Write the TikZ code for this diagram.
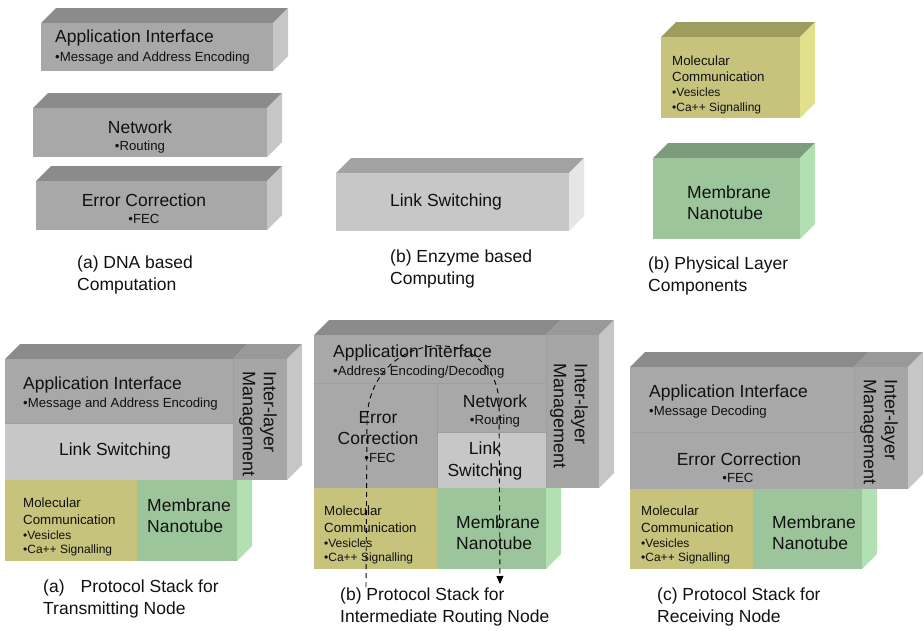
\documentclass[tikz,border=0pt]{standalone}
\usepackage{fontspec}
\setmainfont{Liberation Sans}
\usetikzlibrary{arrows.meta}
\definecolor{gfront}{HTML}{A8A8A8}
\definecolor{gtop}{HTML}{8B8B8B}
\definecolor{gside}{HTML}{C6C6C6}
\definecolor{ctop}{HTML}{999999}
\definecolor{cfront}{HTML}{A6A6A6}
\definecolor{lfront}{HTML}{C7C7C7}
\definecolor{ltop}{HTML}{A2A2A2}
\definecolor{lside}{HTML}{E6E6E6}
\definecolor{yfront}{HTML}{C6C47C}
\definecolor{ytop}{HTML}{9E9C5E}
\definecolor{yside}{HTML}{E1E08B}
\definecolor{nfront}{HTML}{9CC59C}
\definecolor{ntop}{HTML}{7C9C7C}
\definecolor{nside}{HTML}{B2E0B2}
\definecolor{txt}{HTML}{111111}
\newcommand\blockbox[7]{%
  \fill[#6] (#1,#2) -- (#1+15,#2-15) -- (#3+15,#2-15) -- (#3,#2) -- cycle;
  \fill[#7] (#3,#2) -- (#3+15,#2-15) -- (#3+15,#4-15) -- (#3,#4) -- cycle;
  \fill[#5] (#1,#2) rectangle (#3,#4);}
\tikzset{
  big/.style={font=\fontsize{17.5}{21.5}\selectfont, inner sep=0pt, text=txt},
  bul/.style={font=\fontsize{13.2}{16}\selectfont, inner sep=0pt, text=txt},
  mol/.style={font=\fontsize{13.3}{16}\selectfont, inner sep=0pt, text=txt, anchor=west},
  molb/.style={font=\fontsize{12}{15}\selectfont, inner sep=0pt, text=txt, anchor=west},
  capt/.style={font=\fontsize{17.5}{22}\selectfont, inner sep=0pt, text=txt, align=left, anchor=west},
  ilm/.style={font=\fontsize{18}{21}\selectfont, inner sep=0pt, text=txt, align=left, rotate=-90},
  sep/.style={draw=black!38, line width=0.6pt},
  route/.style={dashed, dash pattern=on 5pt off 4pt, line width=0.9pt, -{Triangle[length=8pt,width=7pt]}}
}
\newcommand\molec[3]{%
  \node[mol] (#3a) at (#1,#2) {Molecular};
  \node[mol] (#3b) at (#1,#2+16.5) {Communication};
  \node[molb] (#3c) at (#1,#2+32) {•Vesicles};
  \node[molb] (#3d) at (#1,#2+47.5) {•Ca++ Signalling};}
\begin{document}
\begin{tikzpicture}[x=1pt,y=-1pt]
\useasboundingbox (0,0) rectangle (924,630);
% ---------------- top row ----------------
\blockbox{41}{23}{273}{71}{gfront}{gtop}{gside}
\blockbox{33}{108}{267}{157}{gfront}{gtop}{gside}
\blockbox{36}{181}{267}{230}{gfront}{gtop}{gside}
\node[big, anchor=west] (t1) at (55,38) {Application Interface};
\node[bul, anchor=west] (t1b) at (55,58.5) {•Message and Address Encoding};
\node[big] (t2) at (140,127) {Network};
\node[bul] (t2b) at (140,147) {•Routing};
\node[big] (t3) at (144,200) {Error Correction};
\node[bul] (t3b) at (144,219) {•FEC};
\node[capt] (c1) at (77,275) {(a) DNA based\\Computation};

\blockbox{336}{173}{569}{231}{lfront}{ltop}{lside}
\node[big] (t4) at (446,202) {Link Switching};
\node[capt] (c2) at (390,269) {(b) Enzyme based\\Computing};

\blockbox{661}{37}{800}{118}{yfront}{ytop}{yside}
\molec{672}{60.5}{tm}
\blockbox{653}{158}{800}{239}{nfront}{ntop}{nside}
\node[big, align=left, anchor=west] (t6) at (687,202.5) {Membrane\\Nanotube};
\node[capt] (c3) at (648,275.5) {(b) Physical Layer\\Components};

% ---------------- stack A ----------------
\fill[nside] (237,465) -- (252,465) -- (252,546) -- (237,561) -- cycle;
\fill[yfront] (5,480) rectangle (137,561);
\fill[nfront] (137,480) rectangle (237,561);
\fill[gtop] (5,359) -- (20,344) -- (248,344) -- (233,359) -- cycle;
\fill[ctop] (233,359) -- (248,344) -- (302,344) -- (287,359) -- cycle;
\fill[gside] (287,359) -- (302,344) -- (302,465) -- (287,480) -- cycle;
\fill[gfront] (5,359) rectangle (233,423);
\fill[lfront] (5,423) rectangle (233,480);
\fill[cfront] (233,359) rectangle (287,480);
\draw[sep] (5,423) -- (233,423);
\draw[sep] (233,359) -- (233,480);
\node[big, anchor=west] (a1) at (23,385) {Application Interface};
\node[bul, anchor=west] (a1b) at (23,404.5) {•Message and Address Encoding};
\node[big] (a2) at (115,451) {Link Switching};
\node[ilm] (a3) at (258,424) {Inter-layer\\Management};
\molec{23}{503}{am}
\node[big, align=left, anchor=west] (a5) at (147,515.5) {Membrane\\Nanotube};
\node[capt] (c4) at (43,599) {(a)\hspace{16pt}Protocol Stack for\\Transmitting Node};

% ---------------- stack B ----------------
\fill[nside] (546,473) -- (561,473) -- (561,554) -- (546,569) -- cycle;
\fill[yfront] (314,488) rectangle (437,569);
\fill[nfront] (437,488) rectangle (546,569);
\fill[gtop] (314,335) -- (329,320) -- (561,320) -- (546,335) -- cycle;
\fill[ctop] (546,335) -- (561,320) -- (614,320) -- (599,335) -- cycle;
\fill[gside] (599,335) -- (614,320) -- (614,473) -- (599,488) -- cycle;
\fill[gfront] (314,335) rectangle (546,383);
\fill[gfront] (314,383) rectangle (437,488);
\fill[gfront] (437,383) rectangle (546,432);
\fill[lfront] (437,432) rectangle (546,488);
\fill[cfront] (546,335) rectangle (599,488);
\draw[sep] (314,383) -- (546,383);
\draw[sep] (437,383) -- (437,488);
\draw[sep] (437,432) -- (546,432);
\draw[sep] (546,335) -- (546,488);
\node[big, anchor=west] (b1) at (333,353) {Application Interface};
\node[bul, anchor=west] (b1b) at (333,372) {•Address Encoding/Decoding};
\node[big, align=center] (b2) at (378,428) {Error\\Correction};
\node[bul] (b2b) at (380,458) {•FEC};
\node[big] (b3) at (495,401) {Network};
\node[bul] (b3b) at (495,421) {•Routing};
\node[big, align=center] (b4) at (485,461) {Link\\Switching};
\node[ilm] (b5) at (569,416) {Inter-layer\\Management};
\molec{324}{511}{bm}
\node[big, align=left, anchor=west] (b7) at (456,532.5) {Membrane\\Nanotube};
\node[capt] (c5) at (340,607) {(b) Protocol Stack for\\Intermediate Routing Node};
\coordinate (rs) at (366,587);
\coordinate (re) at (500,584);
\draw[route] (rs) -- (367,420) .. controls (369,330) and (492,320) .. (499,400) -- (re);

% ---------------- stack C ----------------
\fill[nside] (862,474) -- (877,474) -- (877,554) -- (862,569) -- cycle;
\fill[yfront] (630,489) rectangle (753,569);
\fill[nfront] (753,489) rectangle (862,569);
\fill[gtop] (630,367) -- (645,352) -- (869,352) -- (854,367) -- cycle;
\fill[ctop] (854,367) -- (869,352) -- (923,352) -- (908,367) -- cycle;
\fill[gside] (908,367) -- (923,352) -- (923,474) -- (908,489) -- cycle;
\fill[gfront] (630,367) rectangle (854,432);
\fill[gfront] (630,432) rectangle (854,489);
\fill[cfront] (854,367) rectangle (908,489);
\draw[sep] (630,432) -- (854,432);
\draw[sep] (854,367) -- (854,489);
\node[big, anchor=west] (r1) at (649,393) {Application Interface};
\node[bul, anchor=west] (r1b) at (649,412) {•Message Decoding};
\node[big] (r2) at (739,459) {Error Correction};
\node[bul] (r2b) at (738,478) {•FEC};
\node[ilm] (r3) at (879,432) {Inter-layer\\Management};
\molec{641}{511}{rm}
\node[big, align=left, anchor=west] (r5) at (772,532.5) {Membrane\\Nanotube};
\node[capt] (c6) at (657,607) {(c) Protocol Stack for\\Receiving Node};
\end{tikzpicture}
\end{document}
